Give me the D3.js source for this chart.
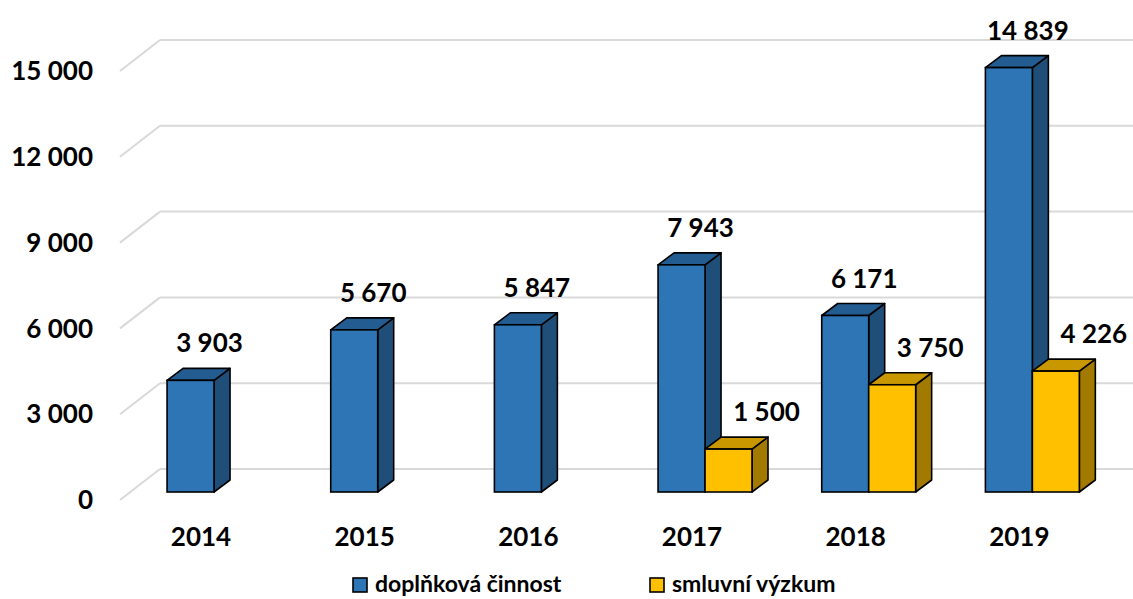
<!DOCTYPE html>
<html>
<head>
<meta charset="utf-8">
<script src="https://cdn.jsdelivr.net/npm/d3@7"></script>
<style>
  body { margin: 0; background: #fff; }
  text { font-family: Lato, "Open Sans", sans-serif; font-weight: bold; fill: #000; }
</style>
</head>
<body>
<svg width="1133" height="599"></svg>
<script>
// data
var years = ["2014", "2015", "2016", "2017", "2018", "2019"];
var series = ["doplňková činnost", "smluvní výzkum"];
var doplnkova = [3903, 5670, 5847, 7943, 6171, 14839];
var smluvni = [null, null, null, 1500, 3750, 4226];
var yTicks = [0, 3000, 6000, 9000, 12000, 15000];

// colours: front, top, side
var colors = {
  "doplňková činnost": {front: "#2E75B6", top: "#235C90", side: "#1F4E79"},
  "smluvní výzkum": {front: "#FFC000", top: "#C99700", side: "#A27A00"}
};

var fmt = function(v) { return d3.format(",")(v).replace(/,/g, " "); };

var svg = d3.select("svg");

// 3d offsets
var depth = {dx: 16, dy: 12};      // bar depth
var wall = {dx: 30, dy: 23};       // bar front plane -> back wall
var axisD = {dx: 40, dy: 31};      // left diagonal of gridlines

var baseY = 492;
var y = d3.scaleLinear().domain([0, 15000]).range([baseY, baseY - 429]);

var x = d3.scaleBand().domain(years)
    .range([132.2, 1114.2])
    .paddingInner(0.426)
    .paddingOuter(0.213);

var x1 = d3.scaleBand().domain(series).range([0, x.bandwidth()]);

// table built from the arrays
var rows = years.map(function(yr, i) {
  return {year: yr, values: [
    {key: series[0], value: doplnkova[i]},
    {key: series[1], value: smluvni[i]}
  ]};
});

// gridlines on the back wall + diagonal on the side
var grid = svg.append("g");
yTicks.forEach(function(t) {
  var yb = y(t) - wall.dy;
  grid.append("line")
      .attr("x1", 160).attr("x2", 1133)
      .attr("y1", yb).attr("y2", yb)
      .attr("stroke", "#d9d9d9").attr("stroke-width", 2);
  grid.append("line")
      .attr("x1", 160 - axisD.dx).attr("y1", yb + axisD.dy)
      .attr("x2", 160).attr("y2", yb)
      .attr("stroke", "#d9d9d9").attr("stroke-width", 2);
  svg.append("text")
      .attr("x", 93).attr("y", yb + axisD.dy)
      .attr("dy", "0.35em")
      .attr("text-anchor", "end")
      .style("font-size", "26px")
      .text(fmt(t));
});

// bars
var groups = svg.selectAll(".grp").data(rows).enter().append("g")
    .attr("class", "grp")
    .attr("transform", function(d) { return "translate(" + x(d.year) + ",0)"; });

var bars = groups.selectAll(".bar")
    .data(function(d) { return d.values.filter(function(v) { return v.value != null; }); })
    .enter().append("g").attr("class", "bar");

bars.each(function(d) {
  var g = d3.select(this);
  var x0 = x1(d.key), w = x1.bandwidth();
  var yt = y(d.value), yb = y(0);
  var c = colors[d.key];
  g.append("polygon")
      .attr("points", [[x0 + w, yt], [x0 + w + depth.dx, yt - depth.dy],
                       [x0 + w + depth.dx, yb - depth.dy], [x0 + w, yb]].join(" "))
      .attr("fill", c.side).attr("stroke", "#000").attr("stroke-width", 1.6)
      .attr("stroke-linejoin", "round");
  g.append("polygon")
      .attr("points", [[x0, yt], [x0 + depth.dx, yt - depth.dy],
                       [x0 + w + depth.dx, yt - depth.dy], [x0 + w, yt]].join(" "))
      .attr("fill", c.top).attr("stroke", "#000").attr("stroke-width", 1.6)
      .attr("stroke-linejoin", "round");
  g.append("rect")
      .attr("x", x0).attr("y", yt)
      .attr("width", w).attr("height", yb - yt)
      .attr("fill", c.front).attr("stroke", "#000").attr("stroke-width", 1.6);
});

// value labels
bars.append("text")
    .attr("x", function(d) { return x1(d.key) + x1.bandwidth() / 2 + (d.key === series[0] ? 19 : 38); })
    .attr("y", function(d) { return y(d.value) - 28; })
    .attr("text-anchor", "middle")
    .style("font-size", "26px")
    .text(function(d) { return fmt(d.value); });

// category labels
svg.selectAll(".cat").data(years).enter().append("text")
    .attr("class", "cat")
    .attr("x", function(d) { return x(d) + x.bandwidth() / 2 - 13; })
    .attr("y", 546)
    .attr("text-anchor", "middle")
    .style("font-size", "26px")
    .text(function(d) { return d; });

// legend
var legX = [353, 650];
var leg = svg.selectAll(".leg").data(series).enter().append("g")
    .attr("class", "leg")
    .attr("transform", function(d, i) { return "translate(" + legX[i] + ",578)"; });
leg.append("rect")
    .attr("width", 14).attr("height", 14)
    .attr("fill", function(d) { return colors[d].front; })
    .attr("stroke", "#000").attr("stroke-width", 1.6);
leg.append("text")
    .attr("x", 22).attr("y", 14)
    .style("font-size", "23px")
    .text(function(d) { return d; });
</script>
</body>
</html>
